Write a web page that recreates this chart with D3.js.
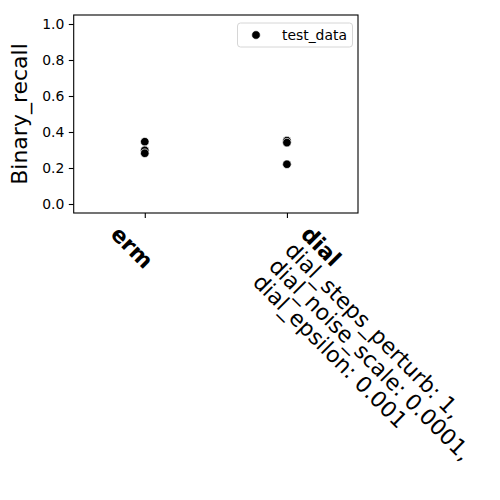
<!DOCTYPE html>
<html><head><meta charset="utf-8">
<script src="https://cdn.jsdelivr.net/npm/d3@7"></script>
<style>body{margin:0;background:#fff}svg{display:block}</style>
</head><body>
<script>
const categories = ["erm", "dial"];
const ermValues = [0.346, 0.298, 0.282];
const dialValues = [0.352, 0.341, 0.221];
const yTicks = [0.0, 0.2, 0.4, 0.6, 0.8, 1.0];
const labelLines = {
  erm: [{t: "erm", b: true}],
  dial: [{t: "dial", b: true}, {t: "dial_steps_perturb: 1,"}, {t: "dial_noise_scale: 0.0001,"}, {t: "dial_epsilon: 0.001"}]
};
const seriesName = "test_data";
const yLabel = "Binary_recall";

const W = 500, H = 500;
const m = {l: 73.7, r: 358, t: 15, b: 213};
const font = "DejaVu Sans, sans-serif";
const svg = d3.select("body").append("svg").attr("width", W).attr("height", H);

const x = d3.scaleLinear().domain([-0.5, 1.5]).range([m.l, m.r]);
const y = d3.scaleLinear().domain([-0.05, 1.05]).range([m.b, m.t]);

// points
const pts = [];
ermValues.forEach(v => pts.push({c: 0, v}));
dialValues.forEach(v => pts.push({c: 1, v}));
svg.append("g").selectAll("circle").data(pts).join("circle")
  .attr("cx", d => x(d.c)).attr("cy", d => y(d.v)).attr("r", 4.3)
  .attr("fill", "#000").attr("stroke", "#fff").attr("stroke-width", 0.7);

// y axis
const yAxis = d3.axisLeft(y).tickValues(yTicks).tickFormat(d3.format(".1f")).tickSize(4.9).tickPadding(4.5);
const gy = svg.append("g").attr("transform", `translate(${m.l},0)`).call(yAxis);
gy.select(".domain").remove();
gy.selectAll("line").attr("stroke", "#000").attr("stroke-width", 1.1);
gy.selectAll("text").attr("font-family", font).attr("font-size", 13.9).attr("fill", "#000");

// x axis ticks
const xAxis = d3.axisBottom(x).tickValues([0, 1]).tickFormat("").tickSize(4.9);
const gx = svg.append("g").attr("transform", `translate(0,${m.b})`).call(xAxis);
gx.select(".domain").remove();
gx.selectAll("line").attr("stroke", "#000").attr("stroke-width", 1.1);

// x tick labels (rotated)
const ls = 22.6;
categories.forEach((c, i) => {
  const lines = labelLines[c];
  const n = lines.length;
  const sx = x(i) - 35.3 + (n - 1) * 16;
  const sy = 235.5;
  const t = svg.append("text")
    .attr("transform", `translate(${sx},${sy}) rotate(45)`)
    .attr("font-family", font).attr("font-size", 22).attr("fill", "#000");
  lines.forEach((ln, k) => {
    t.append("tspan").attr("x", 0).attr("y", k * ls)
      .attr("font-weight", ln.b ? "bold" : "normal").text(ln.t);
  });
});

// frame
svg.append("rect").attr("x", m.l).attr("y", m.t).attr("width", m.r - m.l).attr("height", m.b - m.t)
  .attr("fill", "none").attr("stroke", "#000").attr("stroke-width", 1.1);

// y label
svg.append("text").attr("transform", `translate(26.5,${(m.t + m.b) / 2}) rotate(-90)`)
  .attr("text-anchor", "middle").attr("font-family", font).attr("font-size", 22).attr("fill", "#000")
  .text(yLabel);

// legend
const lg = svg.append("g");
lg.append("rect").attr("x", 237.5).attr("y", 23).attr("width", 115).attr("height", 24).attr("rx", 3)
  .attr("fill", "#fff").attr("fill-opacity", 0.8).attr("stroke", "#d6d6d6").attr("stroke-width", 1);
lg.append("circle").attr("cx", 256).attr("cy", 35).attr("r", 4.3).attr("fill", "#000")
  .attr("stroke", "#fff").attr("stroke-width", 0.7);
lg.append("text").attr("x", 282).attr("y", 40).attr("font-family", font).attr("font-size", 13.9)
  .attr("fill", "#000").text(seriesName);
</script>
</body></html>
